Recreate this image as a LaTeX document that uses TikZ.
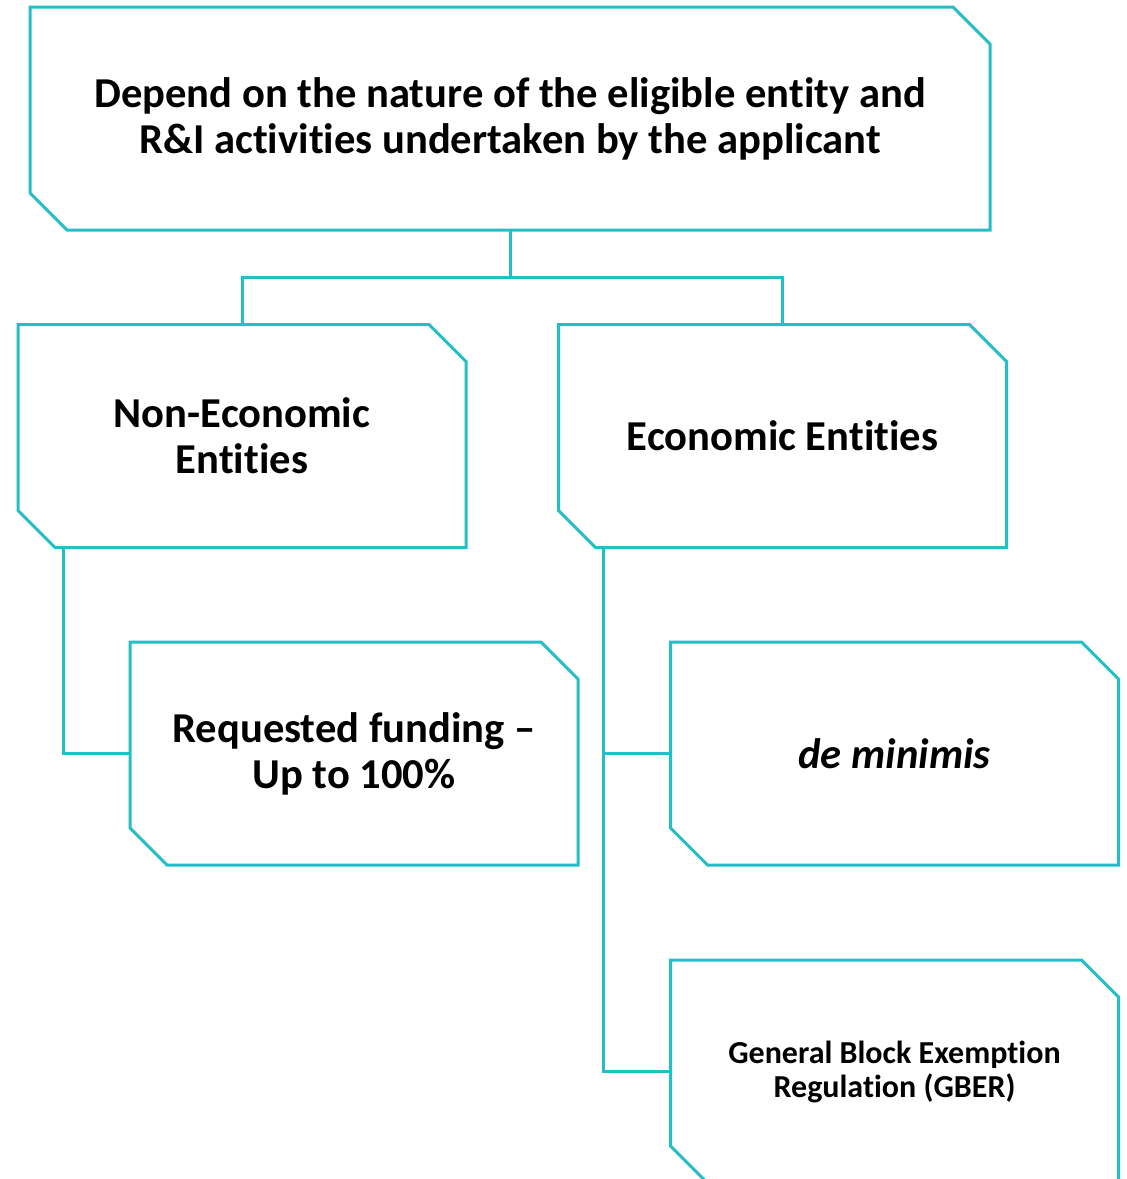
\documentclass[tikz,border=0pt]{standalone}
\usepackage{fontspec}
\setmainfont{Carlito}[Ligatures=NoCommon]
\usepackage{xcolor}
\definecolor{Col1}{RGB}{38,190,198}
\usepackage{tikz}
\tikzstyle{Box}=[inner sep=0pt,outer sep=0pt,align=center,
font=\bfseries\fontsize{21.3}{23}\selectfont,
minimum width=224pt,minimum height=111.5pt]
\tikzstyle{BoxSmall}=[Box,font=\bfseries\fontsize{16}{17}\selectfont]
\tikzstyle{Edge}=[draw=Col1,line width=1.5pt]
\tikzstyle{Frame}=[draw=Col1,line width=1.5pt,line join=miter]
\newcommand{\Chamfer}[1]{\draw[Frame](#1.north west)--([xshift=-18.5pt]#1.north east)
  --([yshift=-18.5pt]#1.north east)--(#1.south east)--([xshift=18.5pt]#1.south west)
  --([yshift=18.5pt]#1.south west)--cycle;}

\begin{document}
\begin{tikzpicture}[x=0.5pt,y=-0.5pt]
        \clip(0,0)rectangle(1127,1179);
        \node[Box,minimum width=480pt](top)at(510,118.5){Depend on the nature of the eligible entity and\\R\&I activities undertaken by the applicant};
        \node[Box](ne)at(242,436){Non-Economic\\Entities};
        \node[Box](ec)at(782.5,436){Economic Entities};
        \node[Box](req)at(354,753.5){Requested funding –\\Up to 100\%};
        \node[Box](dm)at(894.5,753.5){\itshape de minimis};
        \node[BoxSmall](gb)at(894.5,1071.5){General Block Exemption\\Regulation (GBER)};
        \Chamfer{top}
        \Chamfer{ne}
        \Chamfer{ec}
        \Chamfer{req}
        \Chamfer{dm}
        \Chamfer{gb}
        \coordinate(j)at(510,277);
        \draw[Edge](top.south)--(j)-|(ne.north);
        \draw[Edge](j)-|(ec.north);
        \draw[Edge]([xshift=22.5pt]ne.south west)|-(req.west);
        \draw[Edge]([xshift=22.5pt]ec.south west)|-(dm.west);
        \draw[Edge]([xshift=22.5pt]ec.south west)|-(gb.west);
    \end{tikzpicture}
\end{document}
